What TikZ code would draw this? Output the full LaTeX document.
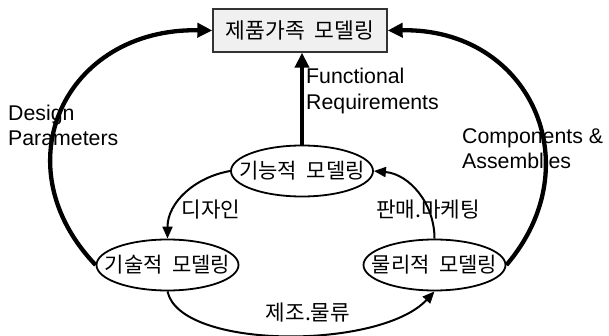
\documentclass[tikz,border=0pt]{standalone}
\usepackage{fontspec}
\setmainfont{Liberation Sans}
\newfontfamily\kr[WordSpace=2]{Noto Sans CJK KR}
\usetikzlibrary{shapes.geometric,arrows.meta}
\begin{document}
\begin{tikzpicture}[x=1pt,y=-1pt,
  latin/.style={font=\fontsize{21.3}{25.5}\selectfont, inner sep=0pt, align=left},
  krlab/.style={font=\kr\fontsize{21.3}{22}\selectfont, inner sep=0pt},
  model/.style={ellipse, draw, line width=1.8pt, minimum width=142pt, minimum height=51pt, inner sep=0pt, font=\kr\fontsize{21}{22}\selectfont},
  topbox/.style={rectangle, draw=black!80, fill=gray!12, line width=1.3pt, minimum width=174pt, minimum height=43pt, inner sep=0pt, font=\kr\fontsize{21.5}{22}\selectfont},
  thick arrow/.style={line width=4.3pt, -{Triangle[length=15pt,width=14pt]}},
  thin arrow/.style={line width=2pt, -{Triangle[length=12pt,width=10pt]}}
]
\useasboundingbox (0,0) rectangle (609,336);

\node[topbox] (box) at (300,30.5) {\makebox[0pt]{제품가족 모델링}};
\node[model] (fm) at (302,171) {\makebox[0pt]{기능적 모델링}};
\node[model] (tm) at (167.5,265) {\makebox[0pt]{기술적 모델링}};
\node[model] (pm) at (434.5,265) {\makebox[0pt]{물리적 모델링}};

\node[latin, anchor=west] (fr) at (306,91) {Functional\\Requirements};
\node[latin, anchor=west] (dp) at (8,125.5) {Design\\Parameters};
\node[latin, anchor=west] (ca) at (462,148.5) {Components \&\\Assemblies};

\node[krlab] (l1) at (211,210) {디자인};
\node[krlab] (l2) at (428,210) {판매.마케팅};
\node[krlab] (l3) at (308,313) {제조.물류};

\draw[thick arrow] (fm.north) -- (fm.north |- box.south);
\draw[thick arrow] (tm.west) .. controls (0,165) and (65,28) .. (box.west);
\draw[thick arrow] (pm.east) .. controls (592,165) and (530,28) .. (box.east);

\draw[thin arrow] (fm.west) to[out=190, in=90] (tm.north);
\draw[thin arrow] (pm.north) to[out=90, in=-5] (fm.east);
\draw[thin arrow] (tm.south) .. controls (180,350) and (380,350) .. (pm.south);
\end{tikzpicture}
\end{document}
